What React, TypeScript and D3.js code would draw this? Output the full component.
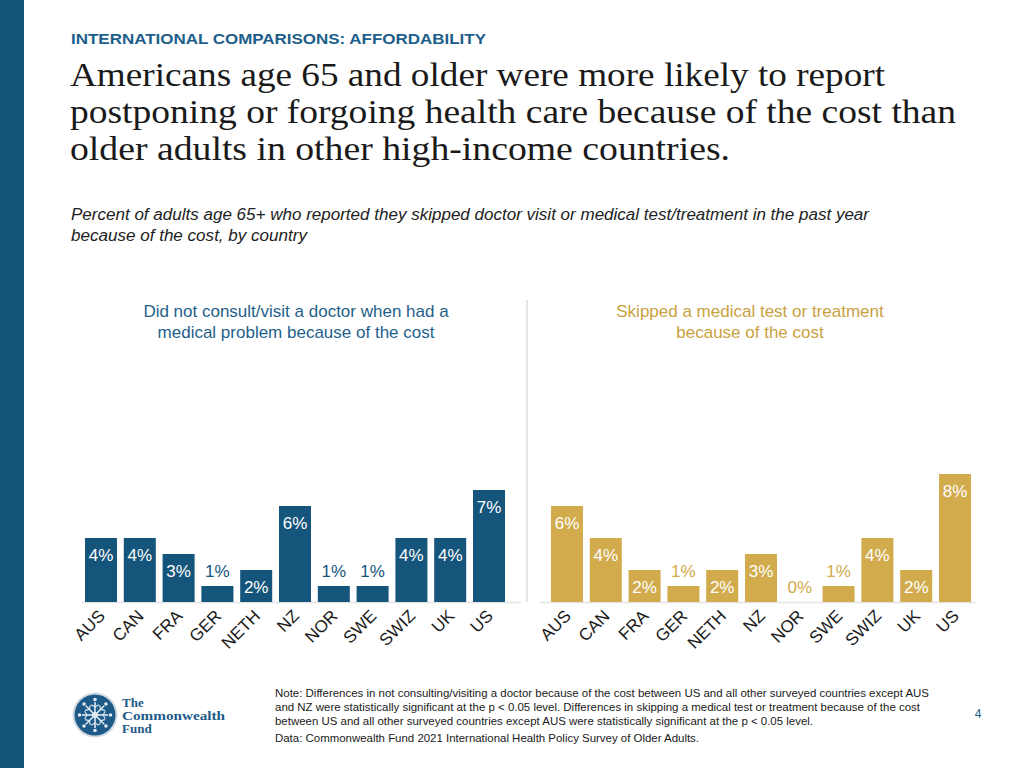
import React from "react";
import * as d3 from "d3";

const countries = ["AUS", "CAN", "FRA", "GER", "NETH", "NZ", "NOR", "SWE", "SWIZ", "UK", "US"];
const doctorValues = [4, 4, 3, 1, 2, 6, 1, 1, 4, 4, 7];
const testValues = [6, 4, 2, 1, 2, 3, 0, 1, 4, 2, 8];

const headingLines = [
  "Americans age 65 and older were more likely to report",
  "postponing or forgoing health care because of the cost than",
  "older adults in other high-income countries.",
];
const headingWidths = [815, 886, 660];
const subtitleLines = [
  "Percent of adults age 65+ who reported they skipped doctor visit or medical test/treatment in the past year",
  "because of the cost, by country",
];
const subtitleWidths = [798, 236];
const leftTitle = ["Did not consult/visit a doctor when had a", "medical problem because of the cost"];
const rightTitle = ["Skipped a medical test or treatment", "because of the cost"];
const noteLines = [
  "Note: Differences in not consulting/visiting a doctor because of the cost between US and all other surveyed countries except AUS",
  "and NZ were statistically significant at the p < 0.05 level. Differences in skipping a medical test or treatment because of the cost",
  "between US and all other surveyed countries except AUS were statistically significant at the p < 0.05 level.",
  "Data: Commonwealth Fund 2021 International Health Policy Survey of Older Adults.",
];
const noteWidths = [654, 645, 538, 424];

const BLUE = "#15557b";
const GOLD = "#d1ab4c";
const SANS = "'Liberation Sans', Arial, sans-serif";
const SERIF = "'Liberation Serif', 'DejaVu Serif', serif";

const baseY = 602;
const y = d3.scaleLinear().domain([0, 8]).range([baseY, 474]);

function Panel({ values, x0, x1, color, lineX0, lineX1 }: any) {
  const x = d3.scaleBand<string>().domain(countries).range([x0, x1]).padding(0.175);
  return (
    <g>
      <line x1={lineX0} x2={lineX1} y1={baseY + 0.5} y2={baseY + 0.5} stroke="#e3e3e3" strokeWidth={1.5} />
      {countries.map((c, i) => {
        const v = values[i];
        const bx = x(c)!;
        const top = y(v);
        const cx = bx + x.bandwidth() / 2;
        const inside = v >= 2;
        return (
          <g key={c}>
            <rect x={bx} y={top} width={x.bandwidth()} height={baseY - top} fill={color} />
            <text
              x={cx}
              y={inside ? top + 23 : top - 9}
              textAnchor="middle"
              fontFamily={SANS}
              fontSize={17}
              fill={inside ? "#ffffff" : color}
            >
              {v}%
            </text>
            <text
              transform={`translate(${cx + 5},${baseY + 15}) rotate(-45)`}
              textAnchor="end"
              fontFamily={SANS}
              fontSize={17}
              fill="#1a1a1a"
            >
              {c}
            </text>
          </g>
        );
      })}
    </g>
  );
}

function Logo() {
  const cx = 95, cy = 715;
  const spokes = d3.range(8).map((i) => (i * Math.PI) / 4 - Math.PI / 2);
  return (
    <g>
      <circle cx={cx} cy={cy} r={22.5} fill="#cfd9e2" />
      <circle cx={cx} cy={cy} r={20.5} fill="#1d5a88" />
      {spokes.map((a, i) => (
        <g key={i}>
          <line x1={cx} y1={cy} x2={cx + Math.cos(a) * 13} y2={cy + Math.sin(a) * 13} stroke="#dfe9f2" strokeWidth={1.6} />
          <circle cx={cx + Math.cos(a) * 15.5} cy={cy + Math.sin(a) * 15.5} r={1.8} fill="#dfe9f2" />
          <line
            x1={cx + Math.cos(a) * 8}
            y1={cy + Math.sin(a) * 8}
            x2={cx + Math.cos(a + 0.35) * 11}
            y2={cy + Math.sin(a + 0.35) * 11}
            stroke="#dfe9f2"
            strokeWidth={1.1}
          />
          <line
            x1={cx + Math.cos(a) * 8}
            y1={cy + Math.sin(a) * 8}
            x2={cx + Math.cos(a - 0.35) * 11}
            y2={cy + Math.sin(a - 0.35) * 11}
            stroke="#dfe9f2"
            strokeWidth={1.1}
          />
        </g>
      ))}
      <circle cx={cx} cy={cy} r={3} fill="#dfe9f2" />
      <g fontFamily={SERIF} fontWeight="bold" fontSize={13} fill="#1d5a88">
        <text x={122} y={707}>The</text>
        <text x={122} y={720} textLength={103} lengthAdjust="spacingAndGlyphs">Commonwealth</text>
        <text x={122} y={733}>Fund</text>
      </g>
    </g>
  );
}

export default function App() {
  return (
    <svg width={1024} height={768} style={{ position: "absolute", left: 0, top: 0, background: "#fff" }}>
      <rect x={0} y={0} width={1024} height={768} fill="#ffffff" />
      <rect x={0} y={0} width={24} height={768} fill="#125479" />
      <text
        x={71}
        y={43.5}
        fontFamily={SANS}
        fontWeight="bold"
        fontSize={15.5}
        fill="#1d5e8a"
        textLength={415}
        lengthAdjust="spacingAndGlyphs"
      >
        INTERNATIONAL COMPARISONS: AFFORDABILITY
      </text>
      {headingLines.map((l, i) => (
        <text
          key={i}
          x={70}
          y={86 + i * 37}
          fontFamily={SERIF}
          fontSize={34}
          fill="#1a1a1a"
          textLength={headingWidths[i]}
          lengthAdjust="spacingAndGlyphs"
        >
          {l}
        </text>
      ))}
      {subtitleLines.map((l, i) => (
        <text
          key={i}
          x={71}
          y={220 + i * 20.5}
          fontFamily={SANS}
          fontStyle="italic"
          fontSize={16}
          fill="#222"
          textLength={subtitleWidths[i]}
          lengthAdjust="spacingAndGlyphs"
        >
          {l}
        </text>
      ))}
      {leftTitle.map((l, i) => (
        <text key={i} x={296} y={317 + i * 20.5} textAnchor="middle" fontFamily={SANS} fontSize={17} fill="#1f5f8b">
          {l}
        </text>
      ))}
      {rightTitle.map((l, i) => (
        <text key={i} x={750} y={317 + i * 20.5} textAnchor="middle" fontFamily={SANS} fontSize={17} fill="#c9a23f">
          {l}
        </text>
      ))}
      <line x1={527} x2={527} y1={300} y2={602} stroke="#dcdcdc" strokeWidth={1.5} />
      <Panel values={doctorValues} x0={78.2} x1={511.8} color={BLUE} lineX0={82} lineX1={521} />
      <Panel values={testValues} x0={544.2} x1={977.8} color={GOLD} lineX0={540} lineX1={976} />
      <Logo />
      {noteLines.map((l, i) => (
        <text
          key={i}
          x={275}
          y={i < 3 ? 697 + i * 14 : 742}
          fontFamily={SANS}
          fontSize={11}
          fill="#1a1a1a"
          textLength={noteWidths[i]}
          lengthAdjust="spacingAndGlyphs"
        >
          {l}
        </text>
      ))}
      <text x={978} y={718} textAnchor="middle" fontFamily={SANS} fontSize={12} fill="#1d5e8a">
        4
      </text>
    </svg>
  );
}
